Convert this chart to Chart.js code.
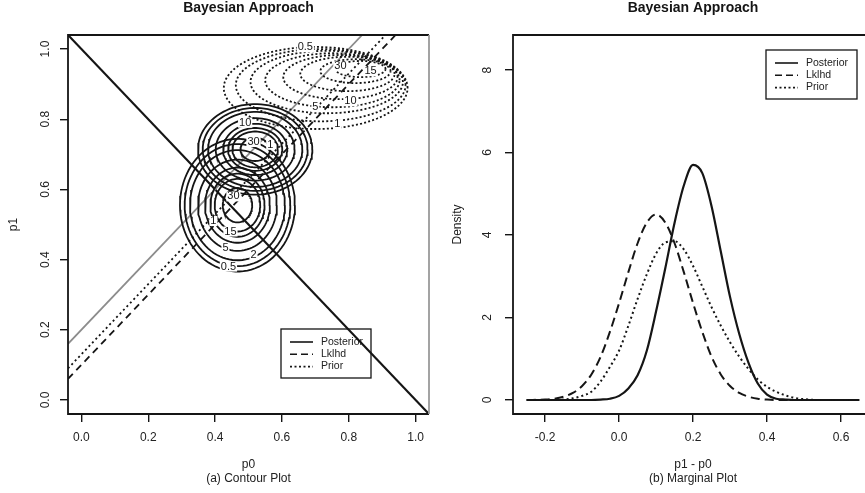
<!DOCTYPE html>
<html>
<head>
<meta charset="utf-8">
<script src="https://cdn.jsdelivr.net/npm/chart.js@4.4.1/dist/chart.umd.min.js"></script>
<style>
body{margin:0;background:#fff;}
#wrap{position:relative;width:865px;height:493px;overflow:hidden;background:#fff;}
canvas{position:absolute;top:0;}
</style>
</head>
<body>
<div id="wrap">
<canvas id="contour" width="440" height="493" style="left:0px"></canvas>
<canvas id="marginal" width="425" height="493" style="left:440px"></canvas>
</div>
<script>
// ---- panel (a) contour plot ----
let p0Ticks=[0,0.2,0.4,0.6,0.8,1.0];
let p1Ticks=[0,0.2,0.4,0.6,0.8,1.0];

// rings, outer -> inner
let lowCx=0.467, lowCy=0.555;
let lowRx=[0.172,0.158,0.142,0.118,0.097,0.081,0.068,0.044];
let lowRy=[0.189,0.174,0.157,0.130,0.107,0.090,0.075,0.049];
let upCx=0.52, upCy=0.714;
let upRx=[0.171,0.157,0.141,0.118,0.096,0.081,0.068,0.044];
let upRy=[0.129,0.118,0.107,0.089,0.073,0.061,0.051,0.033];
let priorCx=[0.701,0.716,0.734,0.751,0.775,0.796,0.820,0.835];
let priorCy=[0.889,0.897,0.906,0.911,0.920,0.929,0.937,0.943];
let priorRx=[0.275,0.254,0.228,0.201,0.171,0.141,0.105,0.075];
let priorRy=[0.117,0.103,0.089,0.077,0.063,0.049,0.034,0.023];

// contour labels
let ringLabels=['30','15','5','2','0.5','1','30','15','10','5','1','0.5','10','30','1'];
let ringLabelX=[0.455,0.446,0.431,0.515,0.44,0.395,0.775,0.865,0.805,0.70,0.766,0.67,0.49,0.515,0.565];
let ringLabelY=[0.58,0.48,0.434,0.414,0.38,0.51,0.951,0.937,0.851,0.834,0.786,1.005,0.79,0.735,0.727];

// straight lines
let diagX=[-0.04,1.04], diagY=[1.04,-0.04];
let postLineX=[-0.04,0.84], postLineY=[0.16,1.04];
let lkLineX=[-0.04,0.94], lkLineY=[0.06,1.04];
let priorLineX=[-0.04,0.91], priorLineY=[0.09,1.04];

// ---- panel (b) marginal plot ----
let diffTicks=[-0.2,0,0.2,0.4,0.6];
let densTicks=[0,2,4,6,8];
let diffX=[-0.25,-0.2,-0.175,-0.15,-0.125,-0.1,-0.075,-0.05,-0.025,0,0.025,0.05,0.075,0.1,0.125,0.15,0.175,0.2,0.225,0.25,0.275,0.3,0.325,0.35,0.375,0.4,0.425,0.45,0.475,0.5,0.55,0.6,0.65];
let posterior=[0,0,0,0,0,0,0,0.01,0.03,0.1,0.28,0.6,1.2,2.15,3.2,4.3,5.2,5.7,5.5,4.7,3.6,2.5,1.6,0.9,0.4,0.13,0.03,0.01,0,0,0,0,0];
let lklhd=[0,0.01,0.03,0.08,0.17,0.34,0.62,1.05,1.65,2.35,3.1,3.8,4.3,4.5,4.3,3.8,3.1,2.35,1.65,1.05,0.62,0.34,0.17,0.08,0.03,0.01,0,0,0,0,0,0,0];
let prior=[0,0,0,0.01,0.04,0.1,0.2,0.45,0.8,1.2,1.8,2.45,3.05,3.55,3.82,3.85,3.65,3.25,2.75,2.25,1.8,1.4,1.05,0.75,0.5,0.32,0.2,0.11,0.05,0.02,0,0,0];

let legendNames=['Posterior','Lklhd','Prior'];
let ink='#151515';
let fam='"Liberation Sans", Arial, sans-serif';

function ring(cx,cy,rx,ry){
    let pts=[];
    for (let k=0;k<=90;k++) {
        let t=k/90*2*Math.PI;
        pts.push({x:cx+rx*Math.cos(t),y:cy+ry*Math.sin(t)});
    }
    return pts;
}
function pairs(xs,ys){
    return xs.map((v,i)=>({x:v,y:ys[i]}));
}
function lineSet(data,dash,color,width,smooth){
    let s={data:data,borderColor:color||ink,borderWidth:width||1.7,borderDash:dash||[],
            pointRadius:0,showLine:true,fill:false,tension:0};
    if (smooth) s.cubicInterpolationMode='monotone';
    return s;
}

let contourSets=[];
for (let i=0;i<lowRx.length;i++) contourSets.push(lineSet(ring(lowCx,lowCy,lowRx[i],lowRy[i]),[],ink,1.8));
for (let i=0;i<upRx.length;i++) contourSets.push(lineSet(ring(upCx,upCy,upRx[i],upRy[i]),[],ink,1.8));
for (let i=0;i<priorRx.length;i++) contourSets.push(lineSet(ring(priorCx[i],priorCy[i],priorRx[i],priorRy[i]),[2,2.2],ink,1.8));
contourSets.push(lineSet(pairs(postLineX,postLineY),[],'#8c8c8c',1.8));
contourSets.push(lineSet(pairs(lkLineX,lkLineY),[7,5],ink,1.8));
contourSets.push(lineSet(pairs(priorLineX,priorLineY),[2,3],ink,1.8));
contourSets.push(lineSet(pairs(diagX,diagY),[],ink,2.2));

// text, box, legend drawn on the canvas
function decor(opt){
    return {
        id:'decor',
        beforeDatasetsDraw(chart){
            let ctx=chart.ctx, lg=opt.legend;
            ctx.save();
            ctx.fillStyle='#fff';
            ctx.fillRect(lg.x,lg.y,lg.w,lg.h);
            ctx.strokeStyle=ink; ctx.lineWidth=1.3;
            ctx.strokeRect(lg.x,lg.y,lg.w,lg.h);
            let dashes=[[],[7,4],[2,2.5]];
            ctx.font='10.5px '+fam; ctx.fillStyle='#222'; ctx.textBaseline='middle';
            legendNames.forEach((n,i)=>{
                let yy=lg.y+13+i*12.3;
                ctx.setLineDash(dashes[i]); ctx.lineWidth=1.6;
                ctx.beginPath(); ctx.moveTo(lg.x+9,yy); ctx.lineTo(lg.x+32,yy); ctx.stroke();
                ctx.setLineDash([]);
                ctx.fillText(n,lg.x+40,yy);
            });
            ctx.restore();
        },
        afterDraw(chart){
            let ctx=chart.ctx, a=chart.chartArea, sx=chart.scales.x, sy=chart.scales.y;
            ctx.save();
            // box
            ctx.lineWidth=1.8; ctx.strokeStyle=ink;
            ctx.beginPath();
            ctx.moveTo(a.right,a.top); ctx.lineTo(a.left,a.top); ctx.lineTo(a.left,a.bottom); ctx.lineTo(a.right,a.bottom);
            ctx.stroke();
            if (opt.rightEdge) {
                ctx.strokeStyle=opt.rightEdge;
                ctx.beginPath(); ctx.moveTo(a.right,a.top); ctx.lineTo(a.right,a.bottom); ctx.stroke();
            }
            // contour labels
            if (opt.labels) {
                ctx.font='11px '+fam; ctx.textAlign='center'; ctx.textBaseline='middle';
                opt.labels.forEach(l=>{
                    let px=sx.getPixelForValue(l.x), py=sy.getPixelForValue(l.y);
                    let w=ctx.measureText(l.t).width+2;
                    ctx.fillStyle='#fff'; ctx.fillRect(px-w/2,py-5,w,10);
                    ctx.fillStyle=ink; ctx.fillText(l.t,px,py);
                });
            }
            // titles
            let cx=(a.left+a.right)/2+(opt.shift||0);
            ctx.fillStyle=ink; ctx.textAlign='center'; ctx.textBaseline='middle';
            ctx.font='bold 14px '+fam;
            ctx.fillText('Bayesian Approach',cx,8);
            ctx.font='12px '+fam; ctx.fillStyle='#222';
            ctx.fillText(opt.xTitle[0],cx,465);
            ctx.fillText(opt.xTitle[1],cx,479);
            // y tick labels and title, rotated like R
            ctx.font='12px '+fam;
            sy.ticks.forEach(t=>{
                let py=sy.getPixelForValue(t.value);
                ctx.save(); ctx.translate(opt.yTickX,py); ctx.rotate(-Math.PI/2);
                ctx.fillText(opt.yFmt(t.value),0,0); ctx.restore();
            });
            ctx.save(); ctx.translate(opt.yTitleX,(a.top+a.bottom)/2); ctx.rotate(-Math.PI/2);
            ctx.fillText(opt.yTitle,0,0); ctx.restore();
            ctx.restore();
        }
    };
}

function axis(min,max,tickVals,fmt,fitKey,fitVal,showLabels){
    let o={type:'linear',min:min,max:max,
        afterBuildTicks:s=>{ s.ticks=tickVals.map(v=>({value:v})); },
        ticks:{display:showLabels,callback:fmt,color:'#222',font:{family:fam,size:12},padding:8,maxRotation:0,autoSkip:false},
        grid:{drawOnChartArea:false,drawTicks:true,tickLength:8,color:ink,lineWidth:1.4},
        border:{display:false}};
    o.afterFit=s=>{ s[fitKey]=fitVal; };
    return o;
}

new Chart(document.getElementById('contour'),{
    type:'scatter',
    data:{datasets:contourSets},
    options:{
        responsive:false,animation:false,devicePixelRatio:1,
        layout:{padding:{top:35,right:11,left:0,bottom:0}},
        plugins:{legend:{display:false},tooltip:{enabled:false}},
        scales:{
            x:axis(-0.04,1.04,p0Ticks,v=>v.toFixed(1),'height',79,true),
            y:axis(-0.04,1.04,p1Ticks,v=>v.toFixed(1),'width',68,false)
        }
    },
    plugins:[decor({legend:{x:281,y:329,w:90,h:49},rightEdge:'#999',
        labels:ringLabels.map((t,i)=>({t:t,x:ringLabelX[i],y:ringLabelY[i]})),
        xTitle:['p0','(a) Contour Plot'],yTitle:'p1',yTitleX:14,yTickX:46,yFmt:v=>v.toFixed(1)})]
});

new Chart(document.getElementById('marginal'),{
    type:'scatter',
    data:{datasets:[
        lineSet(pairs(diffX,lklhd),[9,5],ink,2,true),
        lineSet(pairs(diffX,prior),[2,3],ink,2,true),
        lineSet(pairs(diffX,posterior),[],ink,2.2,true)
    ]},
    options:{
        responsive:false,animation:false,devicePixelRatio:1,
        layout:{padding:{top:35,right:0,left:0,bottom:0}},
        plugins:{legend:{display:false},tooltip:{enabled:false}},
        scales:{
            x:axis(-0.287,0.665,diffTicks,v=>v.toFixed(1),'height',79,true),
            y:axis(-0.34,8.85,densTicks,v=>String(v),'width',73,false)
        }
    },
    plugins:[decor({legend:{x:326,y:50,w:91,h:49},shift:4,
        xTitle:['p1 - p0','(b) Marginal Plot'],yTitle:'Density',yTitleX:18,yTickX:48,yFmt:v=>String(v)})]
});
</script>
</body>
</html>
